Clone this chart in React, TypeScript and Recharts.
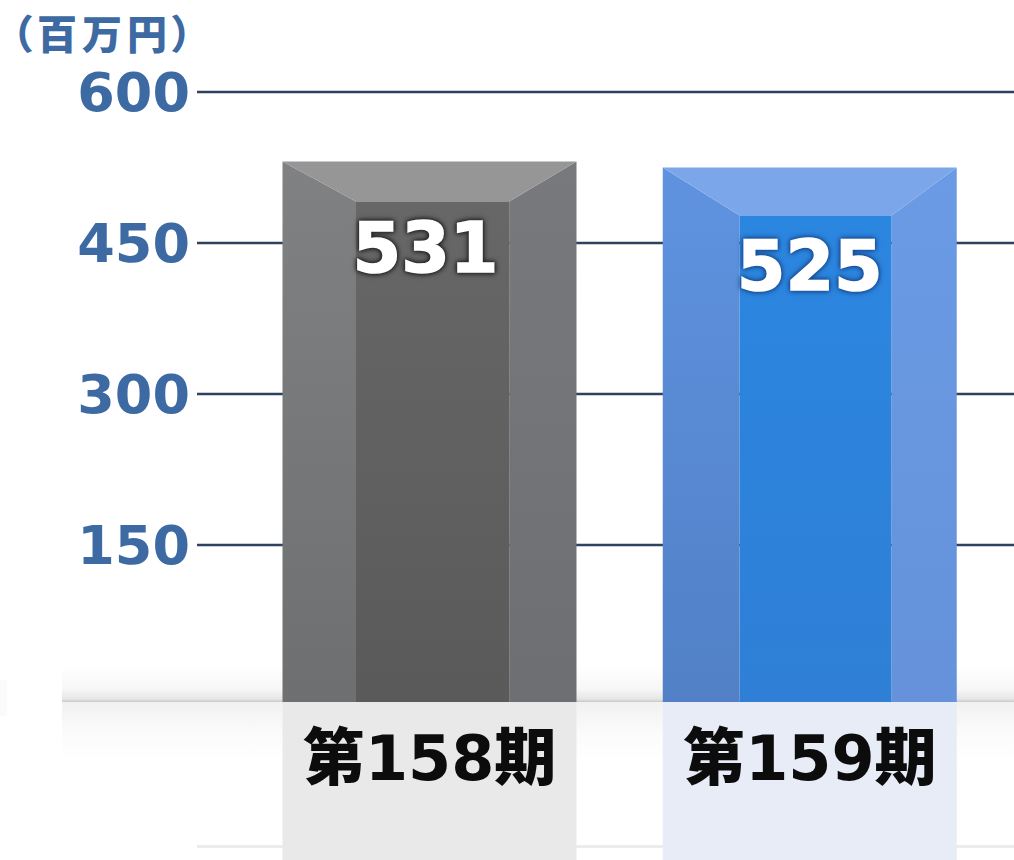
import { Bar, BarChart, CartesianGrid, LabelList, XAxis, YAxis } from 'recharts';

const PERIODS = ['第158期', '第159期'];
const SALES = [531, 525];
const Y_TICKS = [150, 300, 450, 600];
const UNIT_LABEL = '（百万円）';

const chartData = PERIODS.map((period, i) => ({ period, sales: SALES[i] }));

const BLUE_TEXT = '#3d6aa3';

// bar faces: top, sides and front, plus the tint of the reflection
const FACES = [
  { top: '#969696', left: '#808182', leftLow: '#6e6f71', right: '#77797c', rightLow: '#6d6f73', front: '#676767', frontLow: '#5a5a5a', mirror: '#e9e9e9', halo: '#222' },
  { top: '#7ba7ea', left: '#5f93e0', leftLow: '#5180c6', right: '#6a9be4', rightLow: '#6592da', front: '#2b86e0', frontLow: '#2f7fd6', mirror: '#e7ecf7', halo: '#174a90' },
];
const BEVEL_DEPTH = [40, 48];
const INSET_LEFT = [0.25, 0.261];
const INSET_RIGHT = [0.229, 0.222];
const LABEL_DROP = [87, 98];

function BevelBar(props: any) {
  const { x, y, width, height, index } = props;
  const c = FACES[index];
  const insetL = width * INSET_LEFT[index];
  const insetR = width * INSET_RIGHT[index];
  const depth = BEVEL_DEPTH[index];
  const bottom = y + height + 6;
  const right = x + width;
  return (
    <g>
      <rect x={x} y={bottom} width={width} height={860 - bottom} fill={c.mirror} />
      <polygon points={`${x},${y} ${x + insetL},${y + depth} ${x + insetL},${bottom} ${x},${bottom}`} fill={`url(#left${index})`} />
      <polygon points={`${right},${y} ${right - insetR},${y + depth} ${right - insetR},${bottom} ${right},${bottom}`} fill={`url(#right${index})`} />
      <polygon points={`${x},${y} ${right},${y} ${right - insetR},${y + depth} ${x + insetL},${y + depth}`} fill={c.top} />
      <rect x={x + insetL} y={y + depth} width={width - insetL - insetR} height={bottom - y - depth} fill={`url(#front${index})`} />
    </g>
  );
}

function ValueLabel(props: any) {
  const { x, y, width, value, index } = props;
  const halo = FACES[index].halo;
  return (
    <text
      x={x + width / 2 - (index === 0 ? 4 : 0)}
      y={y + LABEL_DROP[index]}
      textAnchor="middle"
      dominantBaseline="central"
      fill="#fff"
      stroke="#fff"
      strokeWidth={1.5}
      style={{
        fontFamily: '"DejaVu Sans"',
        fontWeight: 700,
        fontSize: 70,
        filter: `drop-shadow(0 0 2px ${halo}) drop-shadow(0 0 2px ${halo})`,
      }}
    >
      {value}
    </text>
  );
}

export default function App() {
  return (
    <div style={{ position: 'absolute', left: 0, top: 0, width: 1014, height: 860, background: '#fff', overflow: 'hidden' }}>
      {/* floor and its reflection sit behind the transparent chart */}
      <div style={{ position: 'absolute', left: 62, top: 665, width: 952, height: 37, background: 'linear-gradient(#fff, #f7f7f7 65%, #e6e6e6 92%, #c8c8c8)' }} />
      <div style={{ position: 'absolute', left: 62, top: 702, width: 952, height: 60, background: 'linear-gradient(#f1f1f1, #fbfbfb 50%, #fff)' }} />
      <div style={{ position: 'absolute', left: 0, top: 680, width: 7, height: 36, background: '#fbfbfb' }} />
      <div style={{ position: 'absolute', left: 197, top: 845, width: 817, height: 3, background: '#ececec' }} />
      <BarChart
        width={1014}
        height={860}
        data={chartData}
        margin={{ top: 92, right: 0, bottom: 0, left: 0 }}
        style={{ position: 'absolute', left: 0, top: 0 }}
      >
        <defs>
          {FACES.map((f, i) => (
            <g key={i}>
              <linearGradient id={`front${i}`} x1="0" y1="0" x2="0" y2="1">
                <stop offset="0%" stopColor={f.front} />
                <stop offset="100%" stopColor={f.frontLow} />
              </linearGradient>
              <linearGradient id={`left${i}`} x1="0" y1="0" x2="0" y2="1">
                <stop offset="0%" stopColor={f.left} />
                <stop offset="100%" stopColor={f.leftLow} />
              </linearGradient>
              <linearGradient id={`right${i}`} x1="0" y1="0" x2="0" y2="1">
                <stop offset="0%" stopColor={f.right} />
                <stop offset="100%" stopColor={f.rightLow} />
              </linearGradient>
            </g>
          ))}
        </defs>
        <CartesianGrid vertical={false} horizontalValues={Y_TICKS} stroke="#2e4160" strokeWidth={2.5} />
        <XAxis
          dataKey="period"
          height={164}
          axisLine={false}
          tickLine={false}
          tickMargin={34}
          padding={{ left: 42.5, right: 14 }}
          interval={0}
          tick={{ fill: '#0c0c0c', fontSize: 62, fontWeight: 900, fontFamily: '"DejaVu Sans", "Noto Sans CJK JP"' }}
        />
        <YAxis
          width={197}
          domain={[0, 600]}
          ticks={Y_TICKS}
          axisLine={false}
          tickLine={false}
          tickMargin={1}
          tick={{ fill: BLUE_TEXT, fontSize: 54, fontWeight: 700, fontFamily: '"DejaVu Sans"' }}
        />
        <Bar dataKey="sales" barSize={294} shape={<BevelBar />} isAnimationActive={false}>
          <LabelList dataKey="sales" content={<ValueLabel />} />
        </Bar>
        <text x={12} y={49} fill={BLUE_TEXT} letterSpacing={5} style={{ fontFamily: '"Noto Sans CJK JP"', fontWeight: 900, fontSize: 40, fontFeatureSettings: '"palt"' }}>
          {UNIT_LABEL}
        </text>
      </BarChart>
    </div>
  );
}
